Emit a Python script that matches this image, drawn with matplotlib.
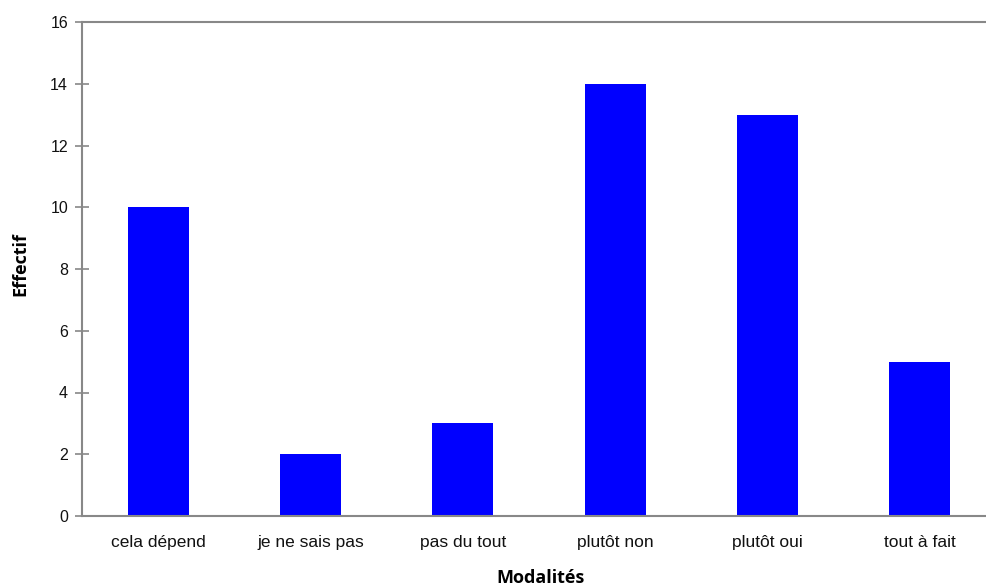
import matplotlib
matplotlib.use("Agg")
import matplotlib.pyplot as plt

categories = ["cela dépend", "je ne sais pas", "pas du tout", "plutôt non", "plutôt oui", "tout à fait"]
effectifs = [10, 2, 3, 14, 13, 5]
yticks = [0, 2, 4, 6, 8, 10, 12, 14, 16]

W, H = 986, 588
fig = plt.figure(figsize=(W / 100, H / 100), dpi=100)
left, right, top, bottom = 82, 996, 22, 516
ax = fig.add_axes([left / W, 1 - bottom / H, (right - left) / W, (bottom - top) / H])

x = range(len(categories))
ax.bar(x, effectifs, width=0.4, color="#0000FF", zorder=2)

ax.set_xlim(-0.5, len(categories) - 0.5)
ax.set_ylim(0, 16)
ax.set_yticks(yticks)
ax.set_xticks(list(x))
ax.set_xticklabels(categories)

grey = "#888888"
ax.spines["right"].set_visible(False)
for side in ("left", "bottom", "top"):
    ax.spines[side].set_color(grey)
    ax.spines[side].set_linewidth(1.5)

ax.tick_params(axis="y", direction="inout", length=10, width=1.2, color=grey,
               labelsize=11.5, pad=5)
ax.tick_params(axis="x", length=0, labelsize=12.5, pad=14)
for lbl in ax.get_xticklabels() + ax.get_yticklabels():
    lbl.set_fontfamily("Liberation Sans")
    lbl.set_color("#111111")

ax.set_xlabel("Modalités", fontfamily="Open Sans", fontweight="bold", fontsize=13,
              va="center")
ax.set_ylabel("Effectif", fontfamily="Open Sans", fontweight="bold", fontsize=13,
              va="center", ha="center")
h_px = bottom - top
w_px = right - left
ax.xaxis.set_label_coords(0.5 - (left + w_px / 2 - 540) / w_px, -(578 - bottom) / h_px)
ax.yaxis.set_label_coords(-(left - 20) / w_px, (bottom - 264) / h_px)

fig.savefig("out.png", dpi=100)
